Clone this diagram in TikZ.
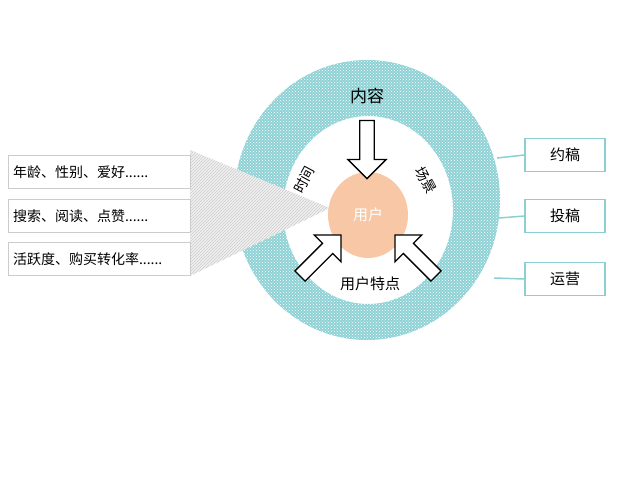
\documentclass[tikz,border=0pt]{standalone}
\usepackage{fontspec}
\setmainfont{Noto Sans CJK SC}
\usetikzlibrary{shapes.arrows,shapes.geometric,patterns}
\definecolor{ringteal}{HTML}{8ED2D6}
\definecolor{boxteal}{HTML}{8CCFD3}
\definecolor{userpeach}{HTML}{F8C8A6}
\begin{document}
\begin{tikzpicture}[x=1pt,y=-1pt,
  info/.style = {draw=gray!40, fill=white, line width=1pt, minimum width=182pt, minimum height=33pt, text width=172pt, align=left, font=\fontsize{14}{16}\selectfont},
  side/.style = {draw=boxteal, fill=white, line width=1.2pt, minimum width=80pt, minimum height=33pt, font=\fontsize{15}{17}\selectfont},
  blockarrow/.style = {single arrow, draw=black, fill=white, line width=1.3pt, minimum height=58pt, minimum width=38pt, single arrow head extend=6pt, inner sep=3pt}]
\useasboundingbox (0,0) rectangle (640,480);
% ring
\fill[ringteal, even odd rule] (367,200) ellipse [x radius=133, y radius=140] (368,210) ellipse [x radius=85, y radius=94];
\fill[pattern=crosshatch dots, pattern color=white, even odd rule] (367,200) ellipse [x radius=133, y radius=140] (368,210) ellipse [x radius=85, y radius=94];
% wedge
\coordinate (tip) at (330,208);
\fill[gray!12] (190,150) -- (tip) -- (190,276) -- cycle;
\fill[pattern=north east lines, pattern color=gray!40] (190,150) -- (tip) -- (190,276) -- cycle;
% left boxes
\node[info] (age) at (99,172) {年龄、性别、爱好......};
\node[info] (act) at (99,216) {搜索、阅读、点赞......};
\node[info] (buy) at (99,259) {活跃度、购买转化率......};
% user
\node[ellipse, fill=userpeach, minimum width=80pt, minimum height=86pt, text=white, font=\fontsize{15}{17}\selectfont] (user) at (368,215) {用户};
% arrows
\node[blockarrow, rotate=-90] (a1) at (367,146) {};
\node[blockarrow, rotate=45] (a2) at (318,258) {};
\node[blockarrow, rotate=135] (a3) at (418,258) {};
% labels
\node[font=\fontsize{17}{19}\selectfont] (nr) at (367,96) {内容};
\node[rotate=62, font=\fontsize{14}{16}\selectfont, inner sep=0pt] (sj) at (304,180) {时间};
\node[rotate=-62, font=\fontsize{14}{16}\selectfont, inner sep=0pt] (cj) at (426,180) {场景};
\node[font=\fontsize{15}{17}\selectfont] (td) at (370,284) {用户特点};
% right boxes
\coordinate (r1) at (497,158);
\coordinate (r2) at (499,218);
\coordinate (r3) at (494,278);
\node[side] (yg) at (565,155) {约稿};
\node[side] (tg) at (565,216) {投稿};
\node[side] (yy) at (565,279) {运营};
\draw[boxteal, line width=1.5pt] (r1) -- (yg.west);
\draw[boxteal, line width=1.5pt] (r2) -- (tg.west);
\draw[boxteal, line width=1.5pt] (r3) -- (yy.west);
\end{tikzpicture}
\end{document}
